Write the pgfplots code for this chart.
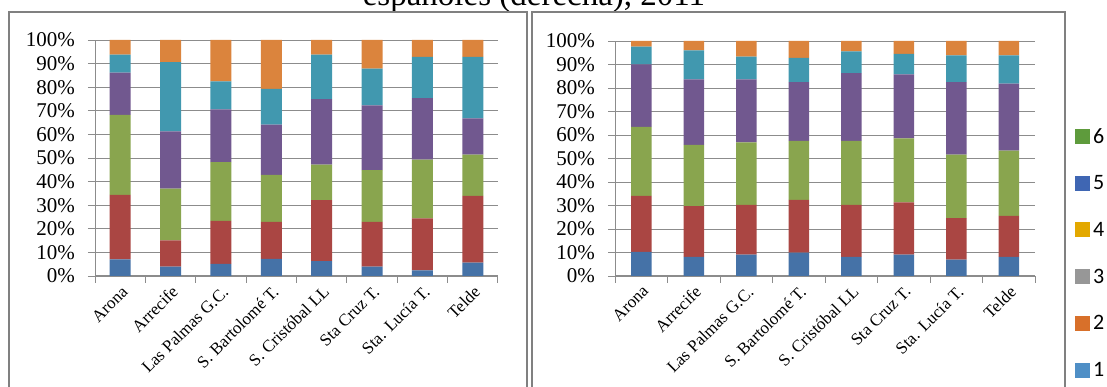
\documentclass[border=0pt]{standalone}
\usepackage{pgfplots}
\pgfplotsset{compat=1.18}
\usepackage{pgfplotstable}
\usepackage{fontspec}
\setmainfont{Liberation Serif}
\newfontfamily\legfont{Carlito}
\definecolor{cB}{HTML}{4572A7}
\definecolor{cR}{HTML}{AA4643}
\definecolor{cG}{HTML}{89A54E}
\definecolor{cP}{HTML}{71588F}
\definecolor{cT}{HTML}{4198AF}
\definecolor{cO}{HTML}{DB843D}
\definecolor{lg6}{HTML}{5E9B3C}
\definecolor{lg5}{HTML}{3F66B3}
\definecolor{lg4}{HTML}{E3A800}
\definecolor{lg3}{HTML}{979797}
\definecolor{lg2}{HTML}{D8702A}
\definecolor{lg1}{HTML}{4F8FC6}
\definecolor{gridc}{HTML}{8C8C8C}
\definecolor{framec}{HTML}{808080}

\pgfplotstableread{
x b r g p t o
0 7.0 27.4 33.9 17.9 7.6 6.2
1 4.0 11.1 21.9 24.3 29.3 9.4
2 5.1 18.3 24.9 22.3 11.9 17.5
3 7.3 15.6 19.9 21.3 15.2 20.7
4 6.3 25.8 15.1 27.7 18.9 6.2
5 4.0 18.9 22.0 27.4 15.6 12.1
6 2.4 22.0 24.9 26.1 17.4 7.2
7 5.7 28.2 17.5 15.4 26.0 7.2
}\leftdata

\pgfplotstableread{
x b r g p t o
0 10.3 23.8 29.4 26.5 7.6 2.4
1 8.1 21.6 26.1 27.9 12.3 4.0
2 9.1 21.2 26.6 26.8 9.7 6.6
3 9.9 22.5 25.1 25.0 10.3 7.2
4 8.1 22.2 27.2 28.8 9.3 4.4
5 9.1 22.2 27.3 27.2 8.7 5.5
6 7.0 17.6 27.0 30.9 11.4 6.1
7 8.1 17.5 27.8 28.5 12.0 6.1
}\rightdata

\pgfplotsset{
  panel/.style={
    scale only axis,
    ybar stacked,
    ymin=0, ymax=100, xmin=-0.5, xmax=7.5,
    axis x line*=bottom, axis y line*=left,
    axis line style={gridc, line width=1pt},
    ytick={0,10,...,100},
    yticklabel={\pgfmathprintnumber{\tick}\%},
    /pgf/number format/assume math mode=true,
    ymajorgrids, grid style={gridc, line width=0.9pt},
    xtick={0,...,7},
    minor xtick={-0.5,0.5,...,7.5},
    major x tick style={draw=none},
    minor x tick style={gridc, line width=1pt},
    minor tick length=7pt,
    major tick length=7pt,
    y tick style={gridc, line width=0.9pt},
    tick align=outside,
    xticklabels={Arona, Arrecife, Las Palmas G.C., S. Bartolomé T., S. Cristóbal LL, Sta Cruz T., Sta. Lucía T., Telde},
    xticklabel style={rotate=45, anchor=north east, font=\fontsize{17}{17}\selectfont, inner sep=1pt},
    yticklabel style={font=\fontsize{21}{21}\selectfont, inner sep=0pt, anchor=east},
    every axis plot/.append style={draw=none, forget plot},
  }
}

\begin{document}
\begin{tikzpicture}
\useasboundingbox (0pt,0pt) rectangle (1107pt,387pt);
\node[anchor=base, font=\fontsize{33}{33}\selectfont] at (534pt,381pt) {españoles (derecha), 2011};
\draw[framec, line width=2pt] (9pt,-5pt) rectangle (527pt,375pt);
\draw[framec, line width=2pt] (532pt,-5pt) rectangle (1065pt,375pt);

\begin{axis}[panel, at={(95pt,111pt)}, anchor=south west, width=403pt, height=236pt, bar width=21pt,
  yticklabel pos=left, typeset ticklabels with strut,
  y tick label style={xshift=-13pt}]
\addplot[fill=cB] table[x=x,y=b]{\leftdata};
\addplot[fill=cR] table[x=x,y=r]{\leftdata};
\addplot[fill=cG] table[x=x,y=g]{\leftdata};
\addplot[fill=cP] table[x=x,y=p]{\leftdata};
\addplot[fill=cT] table[x=x,y=t]{\leftdata};
\addplot[fill=cO] table[x=x,y=o]{\leftdata};
\end{axis}

\begin{axis}[panel, at={(615pt,111pt)}, anchor=south west, width=420pt, height=235pt, bar width=20.5pt,
  y tick label style={xshift=-13pt},
  legend style={at={(1.0952,0.630)}, anchor=north west, draw=none, fill=none, inner sep=0pt,
    font=\legfont\fontsize{22}{22}\selectfont, row sep=31pt,
    nodes={inner ysep=0pt, inner xsep=3pt}},
  legend cell align=left]
\addplot[fill=cB] table[x=x,y=b]{\rightdata};
\addplot[fill=cR] table[x=x,y=r]{\rightdata};
\addplot[fill=cG] table[x=x,y=g]{\rightdata};
\addplot[fill=cP] table[x=x,y=p]{\rightdata};
\addplot[fill=cT] table[x=x,y=t]{\rightdata};
\addplot[fill=cO] table[x=x,y=o]{\rightdata};
\addlegendimage{legend image code/.code={\fill[lg6] (0pt,-7.5pt) rectangle (15pt,7.5pt);}}
\addlegendentry{6}
\addlegendimage{legend image code/.code={\fill[lg5] (0pt,-7.5pt) rectangle (15pt,7.5pt);}}
\addlegendentry{5}
\addlegendimage{legend image code/.code={\fill[lg4] (0pt,-7.5pt) rectangle (15pt,7.5pt);}}
\addlegendentry{4}
\addlegendimage{legend image code/.code={\fill[lg3] (0pt,-7.5pt) rectangle (15pt,7.5pt);}}
\addlegendentry{3}
\addlegendimage{legend image code/.code={\fill[lg2] (0pt,-7.5pt) rectangle (15pt,7.5pt);}}
\addlegendentry{2}
\addlegendimage{legend image code/.code={\fill[lg1] (0pt,-7.5pt) rectangle (15pt,7.5pt);}}
\addlegendentry{1}
\end{axis}
\end{tikzpicture}
\end{document}
